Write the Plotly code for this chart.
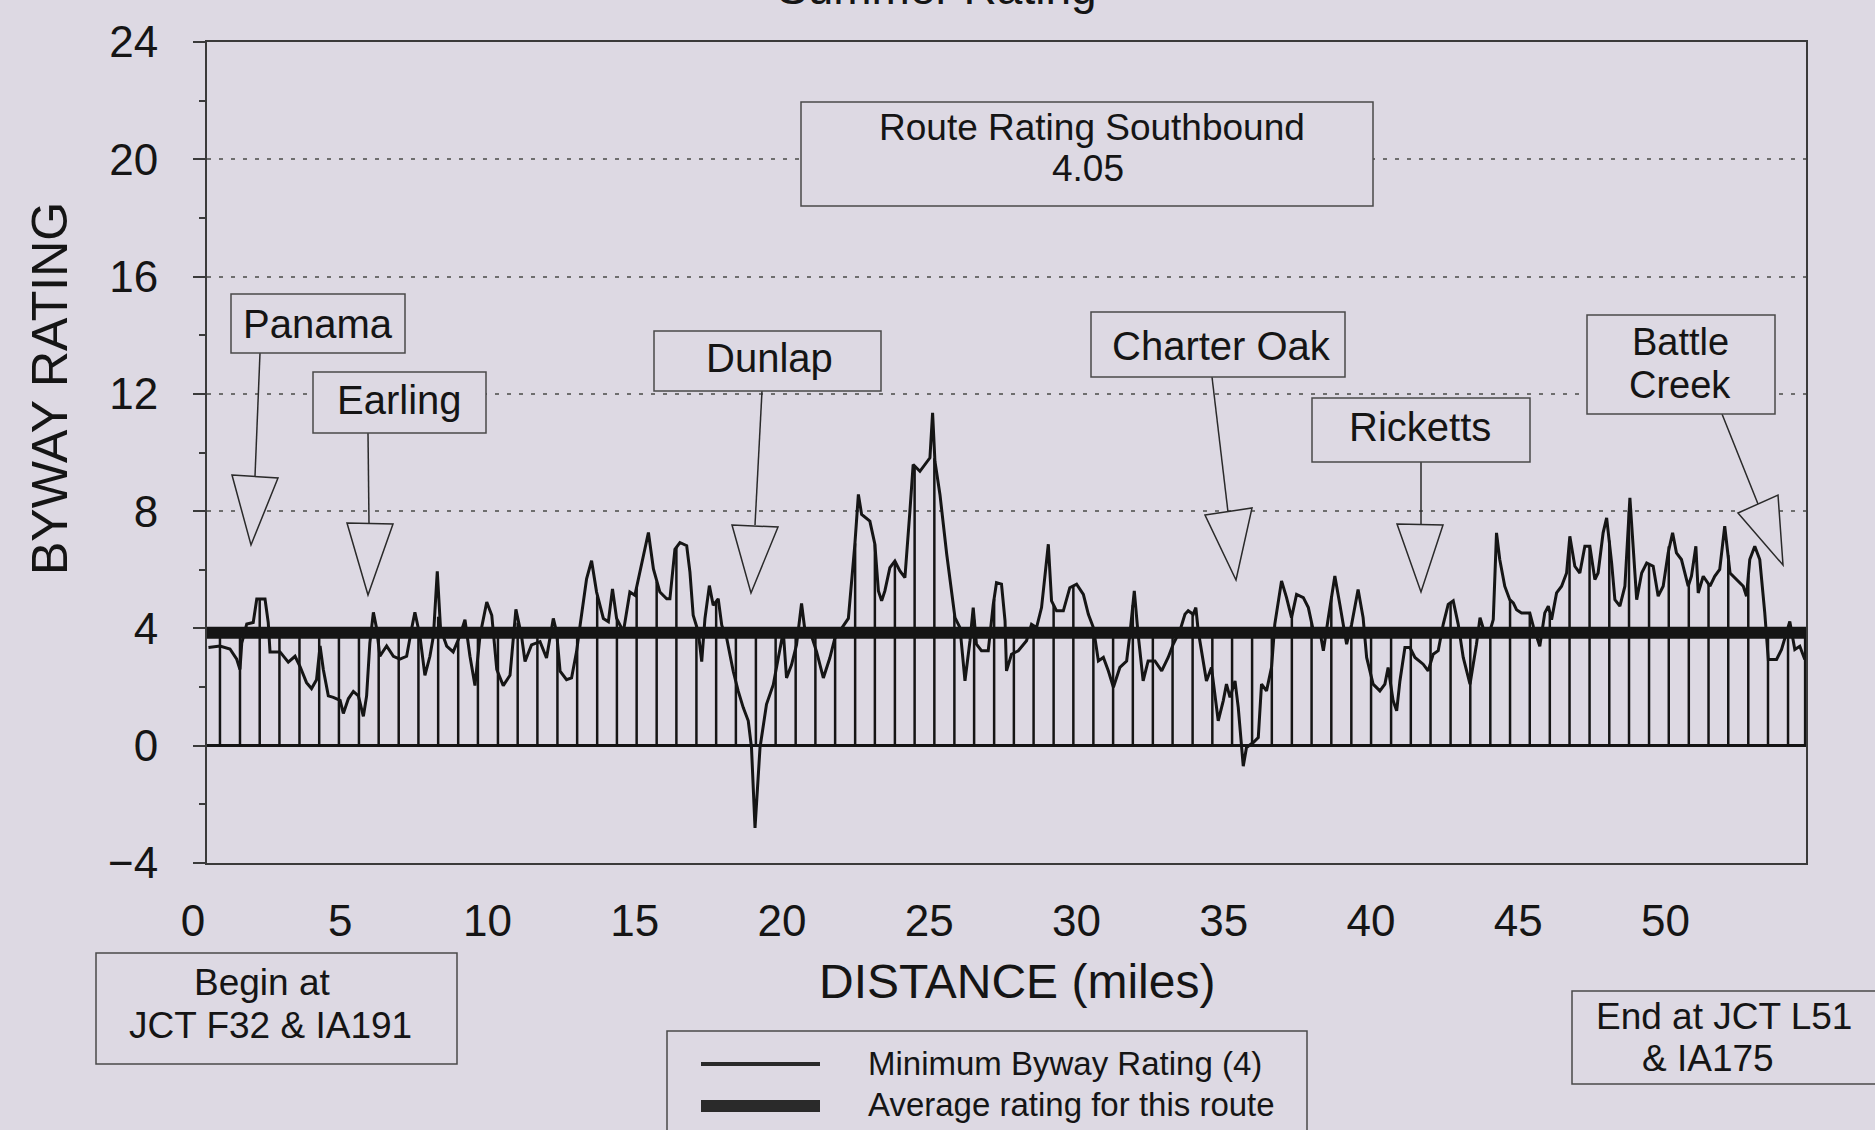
import plotly.graph_objects as go

W, H = 1875, 1130
# plot-area edges in page pixels
L, R, T, B = 207, 1806, 42, 863

BG = "#ddd9e3"
INK = "#151515"
FRAME = "#3a3a3a"
GRID = "#6e6e6e"
FONT = "Liberation Sans, Arial, Helvetica, sans-serif"

# Byway rating trace (distance in miles, rating)
DISTANCE_MI = [
    0.05, 0.44, 0.78, 1.01, 1.12, 1.18, 1.35, 1.57, 1.69, 1.97, 2.08, 2.14, 2.48, 2.76, 2.99,
    3.16, 3.38, 3.55, 3.72, 3.84, 3.95, 4.12, 4.29, 4.52, 4.63, 4.80, 4.97, 5.14, 5.31, 5.42,
    5.53, 5.65, 5.76, 5.87, 6.10, 6.33, 6.55, 6.78, 6.95, 7.06, 7.23, 7.40, 7.57, 7.69, 7.82,
    7.93, 8.14, 8.36, 8.59, 8.76, 8.93, 9.10, 9.27, 9.50, 9.67, 9.84, 10.06, 10.29, 10.49, 10.68,
    10.80, 11.02, 11.31, 11.53, 11.76, 11.87, 11.99, 12.21, 12.38, 12.55, 12.67, 12.89, 13.06, 13.23, 13.46,
    13.63, 13.77, 13.91, 14.14, 14.36, 14.53, 14.70, 14.99, 15.16, 15.38, 15.61, 15.72, 15.89, 16.06, 16.29,
    16.40, 16.51, 16.68, 16.80, 16.91, 17.06, 17.19, 17.36, 17.48, 17.65, 17.87, 18.04, 18.21, 18.38, 18.49,
    18.61, 18.78, 19.00, 19.23, 19.40, 19.57, 19.68, 19.85, 20.02, 20.19, 20.31, 20.48, 20.70, 20.93, 21.15,
    21.32, 21.55, 21.78, 22.00, 22.12, 22.23, 22.51, 22.68, 22.80, 22.91, 23.02, 23.19, 23.36, 23.53, 23.70,
    23.87, 23.98, 24.21, 24.38, 24.55, 24.64, 24.72, 24.89, 25.12, 25.40, 25.57, 25.74, 25.91, 26.02, 26.13,
    26.30, 26.53, 26.70, 26.81, 26.98, 27.10, 27.15, 27.32, 27.55, 27.83, 28.00, 28.17, 28.34, 28.57, 28.68,
    28.85, 29.08, 29.30, 29.53, 29.76, 29.93, 30.10, 30.27, 30.44, 30.61, 30.78, 31.00, 31.23, 31.34, 31.49,
    31.62, 31.79, 31.96, 32.19, 32.42, 32.64, 32.81, 33.04, 33.21, 33.32, 33.49, 33.58, 33.66, 33.78, 33.94,
    34.11, 34.23, 34.34, 34.51, 34.62, 34.74, 34.91, 35.02, 35.13, 35.19, 35.30, 35.53, 35.70, 35.81, 35.98,
    36.15, 36.26, 36.49, 36.66, 36.83, 37.00, 37.23, 37.40, 37.57, 37.79, 37.91, 38.08, 38.30, 38.47, 38.70,
    38.87, 39.09, 39.26, 39.38, 39.60, 39.83, 40.00, 40.11, 40.28, 40.40, 40.51, 40.68, 40.85, 41.02, 41.30,
    41.47, 41.64, 41.81, 41.98, 42.15, 42.32, 42.49, 42.66, 42.89, 43.11, 43.23, 43.40, 43.57, 43.68, 43.79,
    43.90, 44.07, 44.24, 44.36, 44.47, 44.64, 44.92, 45.04, 45.26, 45.43, 45.55, 45.66, 45.83, 46.00, 46.17,
    46.28, 46.45, 46.62, 46.79, 46.96, 47.13, 47.24, 47.41, 47.53, 47.70, 47.81, 47.98, 48.15, 48.32, 48.43,
    48.55, 48.72, 48.89, 49.11, 49.28, 49.45, 49.62, 49.77, 49.90, 50.07, 50.30, 50.41, 50.56, 50.64, 50.81,
    51.04, 51.20, 51.37, 51.54, 51.72, 51.94, 52.17, 52.28, 52.39, 52.56, 52.73, 52.90, 53.02, 53.30, 53.47,
    53.75, 53.92, 54.09, 54.26,
]
RATING = [
    3.35, 3.40, 3.30, 2.95, 2.60, 3.50, 4.15, 4.20, 5.00, 5.00, 4.20, 3.20, 3.20, 2.85, 3.05,
    2.70, 2.15, 1.95, 2.25, 3.40, 2.60, 1.70, 1.65, 1.55, 1.10, 1.60, 1.85, 1.70, 1.00, 1.70,
    3.50, 4.55, 4.00, 3.05, 3.40, 3.05, 2.95, 3.05, 4.00, 4.55, 3.75, 2.40, 3.05, 3.75, 5.95,
    4.00, 3.40, 3.20, 3.75, 4.30, 3.05, 2.05, 3.75, 4.90, 4.45, 2.60, 2.05, 2.40, 4.65, 3.75,
    2.87, 3.44, 3.55, 2.99, 4.34, 3.89, 2.54, 2.25, 2.31, 3.21, 4.11, 5.69, 6.31, 5.24, 4.34,
    4.23, 5.35, 4.34, 3.89, 5.24, 5.13, 5.92, 7.27, 6.03, 5.24, 5.01, 5.01, 6.70, 6.93, 6.82,
    5.92, 4.45, 3.89, 2.87, 4.34, 5.46, 4.79, 5.01, 4.11, 3.66, 2.54, 1.86, 1.30, 0.85, -0.06,
    -2.80, -0.06, 1.41, 2.08, 2.99, 3.89, 2.31, 2.76, 3.44, 4.85, 3.89, 3.89, 3.21, 2.31, 2.99,
    3.66, 4.00, 4.34, 6.87, 8.57, 7.89, 7.66, 6.87, 5.28, 4.94, 5.28, 6.07, 6.30, 5.96, 5.73,
    8.00, 9.59, 9.36, 9.59, 9.82, 11.35, 9.70, 8.57, 6.53, 4.37, 4.03, 2.21, 3.58, 4.71, 3.46,
    3.24, 3.24, 4.82, 5.56, 5.51, 4.26, 2.55, 3.12, 3.24, 3.58, 4.14, 4.03, 4.71, 6.87, 4.94,
    4.60, 4.60, 5.39, 5.51, 5.16, 4.48, 4.03, 2.89, 3.01, 2.55, 1.99, 2.67, 2.89, 3.80, 5.28,
    3.80, 2.21, 2.89, 2.89, 2.55, 3.01, 3.46, 3.92, 4.48, 4.60, 4.48, 4.71, 3.92, 3.24, 2.21,
    2.67, 1.65, 0.85, 1.53, 2.10, 1.65, 2.21, 1.31, 0.06, -0.70, -0.06, 0.11, 0.28, 2.10, 1.87,
    2.67, 4.14, 5.62, 5.05, 4.37, 5.16, 5.05, 4.71, 3.92, 3.92, 3.24, 4.37, 5.79, 4.82, 3.46,
    4.14, 5.33, 4.37, 3.01, 2.10, 1.87, 2.10, 2.67, 1.53, 1.19, 2.21, 3.35, 3.35, 3.01, 2.78,
    2.55, 3.12, 3.24, 4.14, 4.82, 4.94, 4.14, 3.01, 2.10, 3.46, 4.37, 3.80, 3.92, 4.30, 7.26,
    6.35, 5.44, 4.98, 4.87, 4.64, 4.53, 4.53, 4.07, 3.39, 4.53, 4.76, 4.30, 5.21, 5.44, 5.89,
    7.14, 6.12, 5.89, 6.80, 6.80, 5.67, 5.89, 7.26, 7.77, 6.23, 4.98, 4.76, 5.44, 8.45, 6.80,
    4.98, 5.89, 6.23, 6.12, 5.10, 5.44, 6.58, 7.26, 6.58, 6.35, 5.44, 5.78, 6.80, 5.21, 5.78,
    5.44, 5.78, 6.01, 7.49, 5.89, 5.67, 5.44, 5.10, 6.35, 6.80, 6.35, 4.53, 2.94, 2.94, 3.28,
    4.24, 3.28, 3.39, 2.94,
]

# Vertical drop lines (position in miles, top of each line)
STEM_MI = [
    0.44, 1.12, 1.79, 2.46, 3.14, 3.81, 4.48, 5.16, 5.83, 6.51, 7.18, 7.85, 8.53, 9.20, 9.88,
    10.55, 11.22, 11.90, 12.57, 13.25, 13.92, 14.59, 15.27, 15.94, 16.62, 17.29, 17.96, 18.64, 19.31, 19.99,
    20.66, 21.33, 22.01, 22.68, 23.36, 24.03, 24.70, 25.38, 26.05, 26.73, 27.40, 28.07, 28.75, 29.42, 30.10,
    30.77, 31.44, 32.12, 32.79, 33.47, 34.14, 34.81, 35.49, 36.16, 36.84, 37.51, 38.18, 38.86, 39.53, 40.21,
    40.88, 41.55, 42.23, 42.90, 43.58, 44.25, 44.92, 45.60, 46.27, 46.95, 47.62, 48.29, 48.97, 49.64, 50.32,
    50.99, 51.66, 52.34, 53.01, 53.69, 54.27,
]
STEM_TOP = [
    3.85, 3.85, 5.00, 3.85, 3.85, 3.85, 3.85, 3.85, 3.85, 3.85, 3.90, 4.40, 3.85, 3.85, 3.85,
    4.20, 3.85, 3.85, 3.85, 5.10, 4.30, 5.40, 5.60, 6.78, 4.10, 4.90, 3.85, 3.85, 3.85, 3.85,
    3.85, 3.85, 6.90, 6.87, 6.30, 9.50, 9.80, 4.45, 4.30, 5.00, 3.85, 4.10, 4.80, 5.45, 4.03,
    3.85, 4.80, 3.85, 3.85, 4.50, 3.85, 3.85, 3.85, 3.85, 4.40, 4.20, 5.10, 4.10, 3.85, 3.85,
    3.85, 3.85, 4.90, 3.85, 3.90, 4.98, 4.53, 4.50, 7.00, 6.80, 7.00, 8.00, 6.20, 6.80, 5.50,
    5.50, 6.50, 5.80, 3.85, 4.00, 3.85,
]

MIN_RATING = 4
AVERAGE_LINE = 3.85
ROUTE_RATING = "4.05"
X_TICKS = [0, 5, 10, 15, 20, 25, 30, 35, 40, 45, 50]
Y_TICKS = [-4, 0, 4, 8, 12, 16, 20, 24]
X_RANGE = [0, 54.3]
Y_RANGE = [-4, 24]


def px(x):
    return (x - L) / (R - L)


def py(y):
    return (B - y) / (B - T)


fig = go.Figure()

stem_x, stem_y = [], []
for s, top in zip(STEM_MI, STEM_TOP):
    stem_x += [s, s, None]
    stem_y += [0, top, None]
fig.add_trace(go.Scatter(x=stem_x, y=stem_y, mode="lines",
                         line=dict(color=INK, width=2.5), hoverinfo="skip"))
fig.add_trace(go.Scatter(x=DISTANCE_MI, y=RATING, mode="lines",
                         line=dict(color=INK, width=3), name="rating"))

fig.add_hline(y=MIN_RATING, line=dict(color=INK, width=2))
fig.add_hline(y=AVERAGE_LINE, line=dict(color=INK, width=12))

fig.update_layout(
    width=W, height=H,
    paper_bgcolor=BG, plot_bgcolor=BG,
    margin=dict(l=L, r=W - R, t=T, b=H - B),
    showlegend=False,
    font=dict(family=FONT, color=INK),
)
fig.update_xaxes(
    range=X_RANGE, tickvals=X_TICKS, ticks="", showgrid=False, zeroline=False,
    showline=True, linecolor=FRAME, linewidth=2, mirror=True,
    tickfont=dict(size=44, color=INK), ticklabelstandoff=18, ticklabelshift=-14,
)
fig.update_yaxes(
    range=Y_RANGE, tickvals=Y_TICKS, ticks="outside", ticklen=12, tickwidth=2, tickcolor=FRAME,
    minor=dict(dtick=2, ticks="outside", ticklen=6, tickwidth=2, tickcolor=FRAME, showgrid=False),
    showgrid=True, gridcolor=GRID, gridwidth=1.5, griddash="4px,8px",
    zeroline=True, zerolinecolor=INK, zerolinewidth=3,
    showline=True, linecolor=FRAME, linewidth=2, mirror=True,
    tickfont=dict(size=44, color=INK), ticklabelstandoff=26,
)


def text(x, y, s, size=40, anchor="center", angle=0):
    fig.add_annotation(xref="paper", yref="paper", x=px(x), y=py(y), text=s,
                       showarrow=False, xanchor=anchor, yanchor="middle", textangle=angle,
                       font=dict(family=FONT, size=size, color=INK))


def box(x0, y0, x1, y1, width=1.5):
    fig.add_shape(type="rect", xref="paper", yref="paper",
                  x0=px(x0), y0=py(y0), x1=px(x1), y1=py(y1),
                  line=dict(color="#4a4a4a", width=width), fillcolor=BG)


def segment(x0, y0, x1, y1, width=1.5):
    fig.add_shape(type="line", xref="paper", yref="paper",
                  x0=px(x0), y0=py(y0), x1=px(x1), y1=py(y1),
                  line=dict(color="#2a2a2a", width=width))


def triangle(pts):
    path = "M " + " L ".join(f"{px(a):.5f},{py(b):.5f}" for a, b in pts) + " Z"
    fig.add_shape(type="path", xref="paper", yref="paper", path=path,
                  line=dict(color="#2a2a2a", width=1.5), fillcolor=BG)


# town callouts: label box, leader and hollow pointer (page pixels)
CALLOUTS = [
    (["Panama"], (231, 294, 405, 353), [(318, 324)], (260, 353, 255, 476),
     [(232, 475), (278, 478), (251, 545)]),
    (["Earling"], (313, 372, 486, 433), [(399, 400)], (368, 433, 369, 523),
     [(347, 523), (393, 524), (368, 595)]),
    (["Dunlap"], (654, 331, 881, 391), [(769, 358)], (762, 391, 755, 525),
     [(732, 525), (778, 527), (751, 593)]),
    (["Charter Oak"], (1091, 312, 1345, 377), [(1221, 346)], (1212, 377, 1228, 512),
     [(1205, 515), (1252, 508), (1236, 580)]),
    (["Ricketts"], (1312, 398, 1530, 462), [(1420, 427)], (1421, 462, 1421, 524),
     [(1397, 524), (1443, 525), (1421, 592)]),
    (["Battle", "Creek"], (1587, 315, 1775, 414), [(1680, 342), (1680, 385)], (1722, 414, 1758, 504),
     [(1738, 513), (1778, 495), (1783, 565)]),
]
for lines, rect, spots, lead, tri in CALLOUTS:
    segment(*lead)
    triangle(tri)
    box(*rect)
    for s, (tx, ty) in zip(lines, spots):
        text(tx, ty, s, size=38 if len(lines) > 1 else 40)

box(801, 102, 1373, 206)
text(1092, 127, "Route Rating Southbound", size=37)
text(1088, 169, ROUTE_RATING, size=37)

box(96, 953, 457, 1064)
text(262, 982, "Begin at", size=37)
text(270, 1025, "JCT F32 &amp; IA191", size=37)

box(1572, 991, 1890, 1084)
text(1724, 1016, "End at JCT L51", size=37)
text(1708, 1058, "&amp; IA175", size=37)

# hand-drawn legend
box(667, 1031, 1307, 1150)
segment(701, 1064, 820, 1064, width=4)
segment(701, 1106, 820, 1106, width=12)
text(866, 1063, "Minimum Byway Rating (4)", size=33, anchor="left")
text(866, 1104, "Average rating for this route", size=33, anchor="left")

text(1017, 981, "DISTANCE (miles)", size=48)
text(50, 389, "BYWAY RATING", size=50, angle=-90)

# the scan cuts the chart title off at the top edge
fig.add_annotation(xref="paper", yref="paper", x=px(937), y=py(16), text="Summer Rating",
                   showarrow=False, xanchor="center", yanchor="bottom",
                   font=dict(family=FONT, size=46, color=INK))

fig.write_html("out.html", config={"displayModeBar": False},
               post_script="document.body.style.margin='0';")
